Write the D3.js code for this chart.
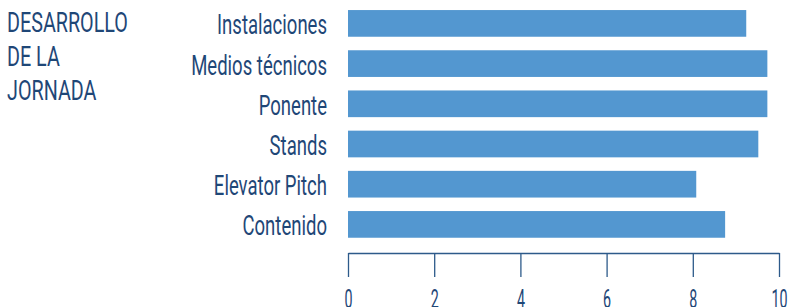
<!DOCTYPE html>
<html>
<head>
<meta charset="utf-8">
<script src="https://d3js.org/d3.v7.min.js"></script>
<style>
  body { margin: 0; background: #fff; }
  text { font-family: Roboto, "DejaVu Sans Condensed", sans-serif; font-weight: 400; }
</style>
</head>
<body>
<div id="chart"></div>
<script>
// data
var categories = ["Instalaciones", "Medios técnicos", "Ponente", "Stands", "Elevator Pitch", "Contenido"];
var values = [9.24, 9.73, 9.73, 9.52, 8.08, 8.75];
var tickValues = [0, 2, 4, 6, 8, 10];
var titleLines = ["DESARROLLO", "DE LA", "JORNADA"];

var width = 788, height = 307;
var barColor = "#5397d0", textColor = "#1f4777";

var svg = d3.select("#chart").append("svg")
  .attr("width", width)
  .attr("height", height);

var x = d3.scaleLinear().domain([0, 10]).range([348, 779]);
var y = d3.scaleBand().domain(categories).range([3.3, 244.5])
  .paddingInner(0.336).paddingOuter(0.168);

// squeeze a group of text horizontally so that one sample text gets the target width
function squeeze(g, sample, target, tx) {
  var w = sample.node().getComputedTextLength();
  g.attr("transform", "translate(" + tx + ",0) scale(" + (target / w) + ",1)");
}

// title
var title = svg.append("g");
var titleText = title.selectAll("text")
  .data(titleLines)
  .enter().append("text")
  .attr("x", 0)
  .attr("y", function(d, i) { return 32 + i * 34; })
  .style("font-size", "28px")
  .style("fill", textColor)
  .text(function(d) { return d; });
squeeze(title, titleText.filter(function(d, i) { return i === 0; }), 121, 7);

// bars
svg.selectAll("rect")
  .data(values)
  .enter().append("rect")
  .attr("x", x(0))
  .attr("y", function(d, i) { return y(categories[i]); })
  .attr("width", function(d) { return x(d) - x(0); })
  .attr("height", y.bandwidth())
  .style("fill", barColor);

// category labels
var labels = svg.append("g");
var labelText = labels.selectAll("text")
  .data(categories)
  .enter().append("text")
  .attr("x", 0)
  .attr("y", function(d) { return y(d) + y.bandwidth() / 2 + 11; })
  .attr("text-anchor", "end")
  .style("font-size", "28px")
  .style("fill", textColor)
  .text(function(d) { return d; });
squeeze(labels, labelText.filter(function(d, i) { return i === 0; }), 110, 327);

// axis
var axis = svg.append("g")
  .attr("transform", "translate(0,253)")
  .call(d3.axisBottom(x).tickValues(tickValues).tickSize(24).tickSizeOuter(0).tickFormat(d3.format("d")));
axis.select(".domain").attr("stroke", "#2d5a8a").attr("stroke-width", 1.3);
axis.selectAll(".tick line").attr("stroke", "#2d5a8a").attr("stroke-width", 1.3);
axis.selectAll(".tick text")
  .attr("y", 55)
  .attr("dy", null)
  .attr("transform", "scale(0.55,1)")
  .style("font-size", "26px")
  .style("font-family", "Roboto, 'DejaVu Sans Condensed', sans-serif")
  .style("fill", textColor);
</script>
</body>
</html>
